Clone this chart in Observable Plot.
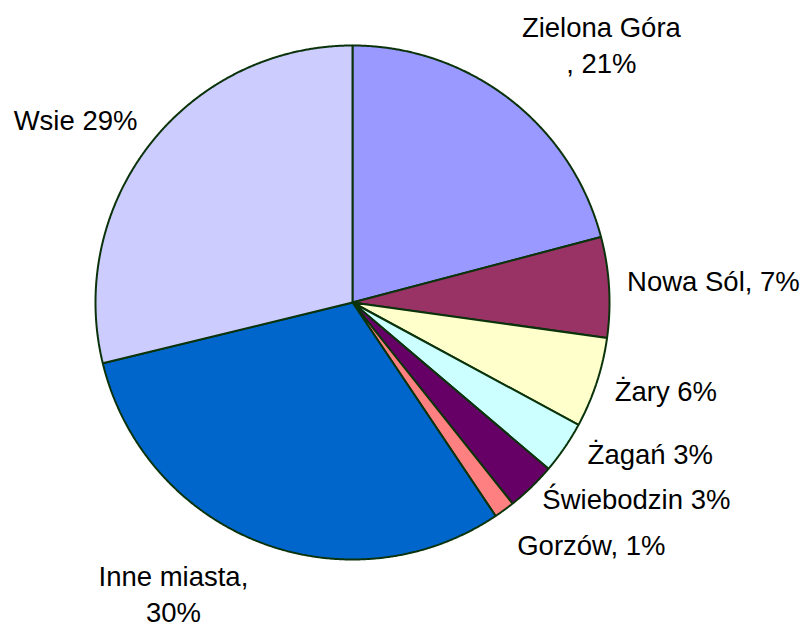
<!DOCTYPE html>
<html><head><meta charset="utf-8">
<script src="https://cdn.jsdelivr.net/npm/d3@7"></script>
<script src="https://cdn.jsdelivr.net/npm/@observablehq/plot@0.6"></script>
<style>html,body{margin:0;padding:0;background:#fff;}#chart svg{display:block;}</style>
</head><body><div id="chart"></div>
<script>
// ---- data ----
const names  = ["Zielona Góra", "Nowa Sól", "Żary", "Żagań", "Świebodzin", "Gorzów", "Inne miasta", "Wsie"];
const shares = [20.9, 6.3, 5.7, 3.3, 3.1, 1.3, 30.6, 28.8];
const labels = ["Zielona Góra\n, 21%", "Nowa Sól, 7%", "Żary 6%", "Żagań 3%", "Świebodzin 3%", "Gorzów, 1%", "Inne miasta,\n30%", "Wsie 29%"];
const colors = ["#9999FF", "#993366", "#FFFFCC", "#CCFFFF", "#660066", "#FF8080", "#0066CC", "#CCCCFF"];

// ---- layout ----
const W = 806, H = 627;
const CX = 352, CY = 302, R = 257; // pie centre and radius in pixels
const total = d3.sum(shares);
let acc = 0;
const slices = names.map((name, i) => {
  const a0 = acc / total * 2 * Math.PI; acc += shares[i];
  const a1 = acc / total * 2 * Math.PI;
  return {name, a0, a1, mid: (a0 + a1) / 2, label: labels[i]};
});
// slice outlines in unit (radius = 1) coordinates, derived from the shares
const outline = slices.flatMap(s => {
  const n = Math.max(2, Math.ceil((s.a1 - s.a0) / (Math.PI / 720)));
  const pts = [{name: s.name, x: 0, y: 0}];
  for (let k = 0; k <= n; k++) {
    const a = s.a0 + (s.a1 - s.a0) * k / n;
    pts.push({name: s.name, x: Math.sin(a), y: Math.cos(a)});
  }
  return pts;
});

// label placement relative to the slice's mid-angle point on the rim
const place = {
  "Zielona Góra": {dx: 92, dy: -26, anchor: "middle"},
  "Nowa Sól":     {dx: 18, dy: 4, anchor: "start"},
  "Żary":         {dx: 18, dy: 18, anchor: "start"},
  "Żagań":        {dx: 23, dy: 16, anchor: "start"},
  "Świebodzin":   {dx: 11, dy: 22, anchor: "start"},
  "Gorzów":       {dx: 13, dy: 45, anchor: "start"},
  "Inne miasta":  {dx: -86, dy: 80, anchor: "middle"},
  "Wsie":         {dx: -13, dy: -14, anchor: "end"}
};

const font = "'Liberation Sans', Arial, sans-serif";
const textMarks = slices.map(s => Plot.text([s], {
  x: d => Math.sin(d.mid), y: d => Math.cos(d.mid), text: "label",
  dx: place[s.name].dx, dy: place[s.name].dy, textAnchor: place[s.name].anchor,
  lineAnchor: "bottom", lineHeight: 1.31, fontSize: 27.5, fontFamily: font, fill: "#000"
}));

const chart = Plot.plot({
  width: W, height: H, margin: 0,
  style: {fontFamily: font, background: "#fff"},
  x: {domain: [-CX / R, (W - CX) / R], range: [0, W], axis: null},
  y: {domain: [-(H - CY) / R, CY / R], range: [H, 0], axis: null},
  color: {domain: names, range: colors},
  marks: [
    Plot.line(outline, {x: "x", y: "y", z: "name", fill: "name", stroke: "#0b330b", strokeWidth: 2,
      curve: "linear-closed", strokeLinejoin: "miter"}),
    ...textMarks
  ]
});
document.getElementById("chart").appendChild(chart);
</script>
</body></html>
